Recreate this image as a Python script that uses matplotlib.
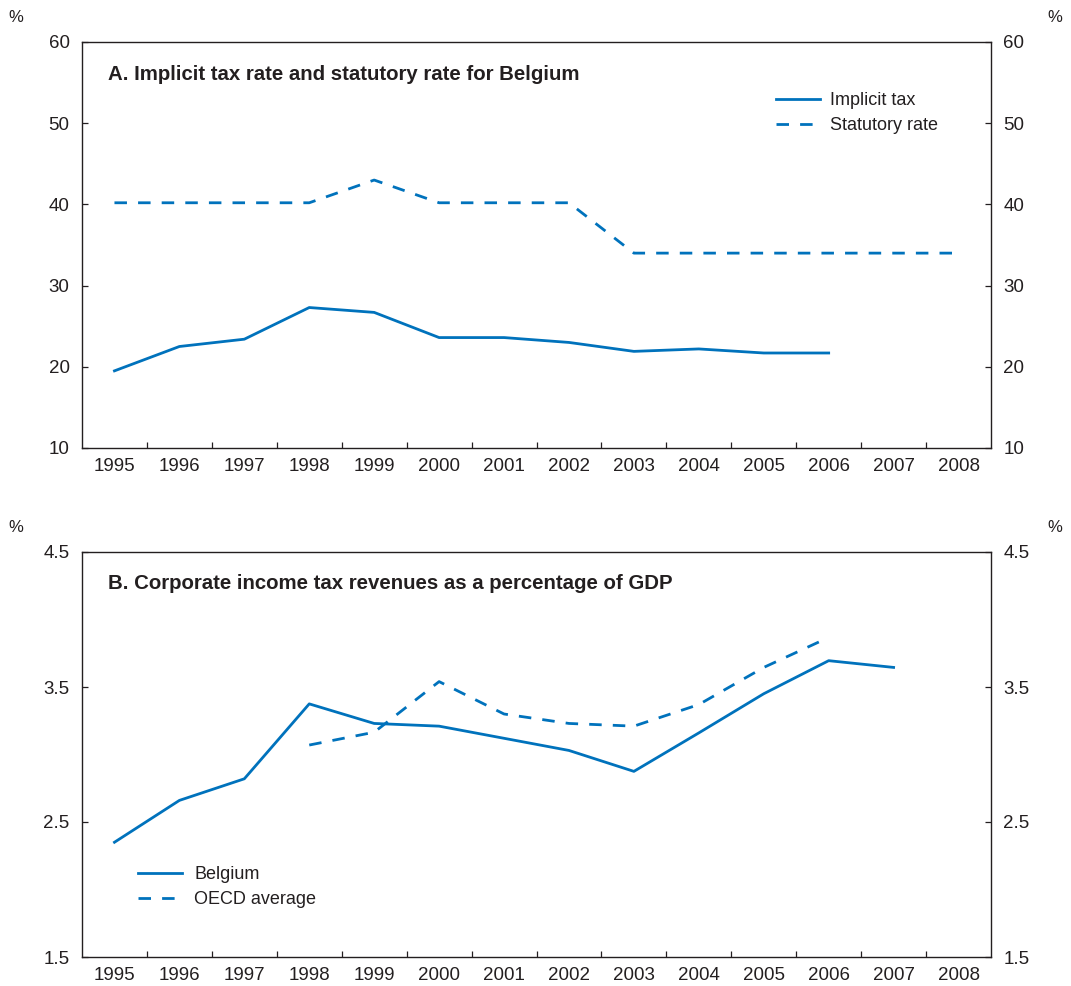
import matplotlib
matplotlib.use("Agg")
import matplotlib.pyplot as plt
import numpy as np

plt.rcParams["font.family"] = ["Liberation Sans", "DejaVu Sans"]

years = [str(y) for y in range(1995, 2009)]

# Panel A: implicit tax rate and statutory rate (%)
implicit_tax = [19.5, 22.5, 23.4, 27.3, 26.7, 23.6, 23.6, 23.0, 21.9, 22.2, 21.7, 21.7]
statutory_rate = [40.2, 40.2, 40.2, 40.2, 43.0, 40.2, 40.2, 40.2, 34.0, 34.0, 34.0, 34.0, 34.0, 34.0]

# Panel B: corporate income tax revenues (% of GDP)
belgium = [2.35, 2.66, 2.82, 3.375, 3.23, 3.21, 3.12, 3.03, 2.875, 3.16, 3.45, 3.695, 3.645]
oecd_years = years[3:12]
oecd_average = [3.07, 3.165, 3.54, 3.30, 3.23, 3.21, 3.37, 3.645, 3.867]

panel_a_ticks = [10, 20, 30, 40, 50, 60]
panel_b_ticks = [1.5, 2.5, 3.5, 4.5]
panel_b_labels = ["1.5", "2.5", "3.5", "4.5"]

BLUE = "#0072BC"
TXT = "#231F20"
LW = 2.0

W, H = 1071, 986
fig = plt.figure(figsize=(W / 100, H / 100), dpi=100)


def px_axes(left, top, right, bottom):
    return fig.add_axes([left / W, 1 - bottom / H, (right - left) / W, (bottom - top) / H])


def style_axes(ax, yticks, ylabels, ylim):
    n = len(years)
    ax.set_xlim(-0.5, n - 0.5)
    ax.set_ylim(*ylim)
    ax.set_xticks(range(n))
    ax.set_xticklabels(years)
    ax.set_xticks(np.arange(0.5, n - 1, 1.0), minor=True)
    ax.tick_params(axis="x", which="major", length=0, pad=7, labelsize=13.5, labelcolor=TXT)
    ax.tick_params(axis="x", which="minor", direction="in", length=4, width=0.9, color=TXT)
    ax.set_yticks(yticks)
    ax.set_yticklabels(ylabels)
    ax.tick_params(axis="y", which="major", direction="in", length=4, width=0.9, color=TXT,
                   left=True, right=True, labelleft=True, labelright=True,
                   labelsize=13.5, labelcolor=TXT, pad=9)
    for s in ax.spines.values():
        s.set_color(TXT)
        s.set_linewidth(1.0)


# ---- Panel A ----
axA = px_axes(82, 42, 991, 448)
style_axes(axA, panel_a_ticks, [str(t) for t in panel_a_ticks], (10, 60))
xa = np.arange(len(years))
axA.plot(xa[:len(implicit_tax)], implicit_tax, color=BLUE, lw=LW, label="Implicit tax")
axA.plot(xa, statutory_rate, color=BLUE, lw=LW, ls=(0, (4.5, 4)), label="Statutory rate")
axA.text(0.0286, 0.921, "A. Implicit tax rate and statutory rate for Belgium",
         transform=axA.transAxes, fontsize=14.7, fontweight="bold", color=TXT, va="center", ha="left")
axA.legend(loc="upper left", bbox_to_anchor=(0.764, 0.877), frameon=False, fontsize=13,
           handlelength=2.4, handletextpad=0.55, labelspacing=0.45, borderpad=0, borderaxespad=0,
           labelcolor=TXT)

# ---- Panel B ----
axB = px_axes(82, 552, 991, 957)
style_axes(axB, panel_b_ticks, panel_b_labels, (1.5, 4.5))
axB.plot(xa[:len(belgium)], belgium, color=BLUE, lw=LW, label="Belgium")
axB.plot([years.index(y) for y in oecd_years], oecd_average, color=BLUE, lw=LW,
         ls=(0, (4.5, 4)), label="OECD average")
axB.text(0.0286, 0.923, "B. Corporate income tax revenues as a percentage of GDP",
         transform=axB.transAxes, fontsize=14.7, fontweight="bold", color=TXT, va="center", ha="left")
axB.legend(loc="upper left", bbox_to_anchor=(0.062, 0.225), frameon=False, fontsize=13,
           handlelength=2.4, handletextpad=0.7, labelspacing=0.45, borderpad=0, borderaxespad=0,
           labelcolor=TXT)

# Unit markers
for ypix in (18, 527):
    fig.text(16 / W, 1 - ypix / H, "%", fontsize=12, color=TXT, ha="center", va="center")
    fig.text(1055 / W, 1 - ypix / H, "%", fontsize=12, color=TXT, ha="center", va="center")

fig.savefig("out.png", dpi=100, facecolor="white")
